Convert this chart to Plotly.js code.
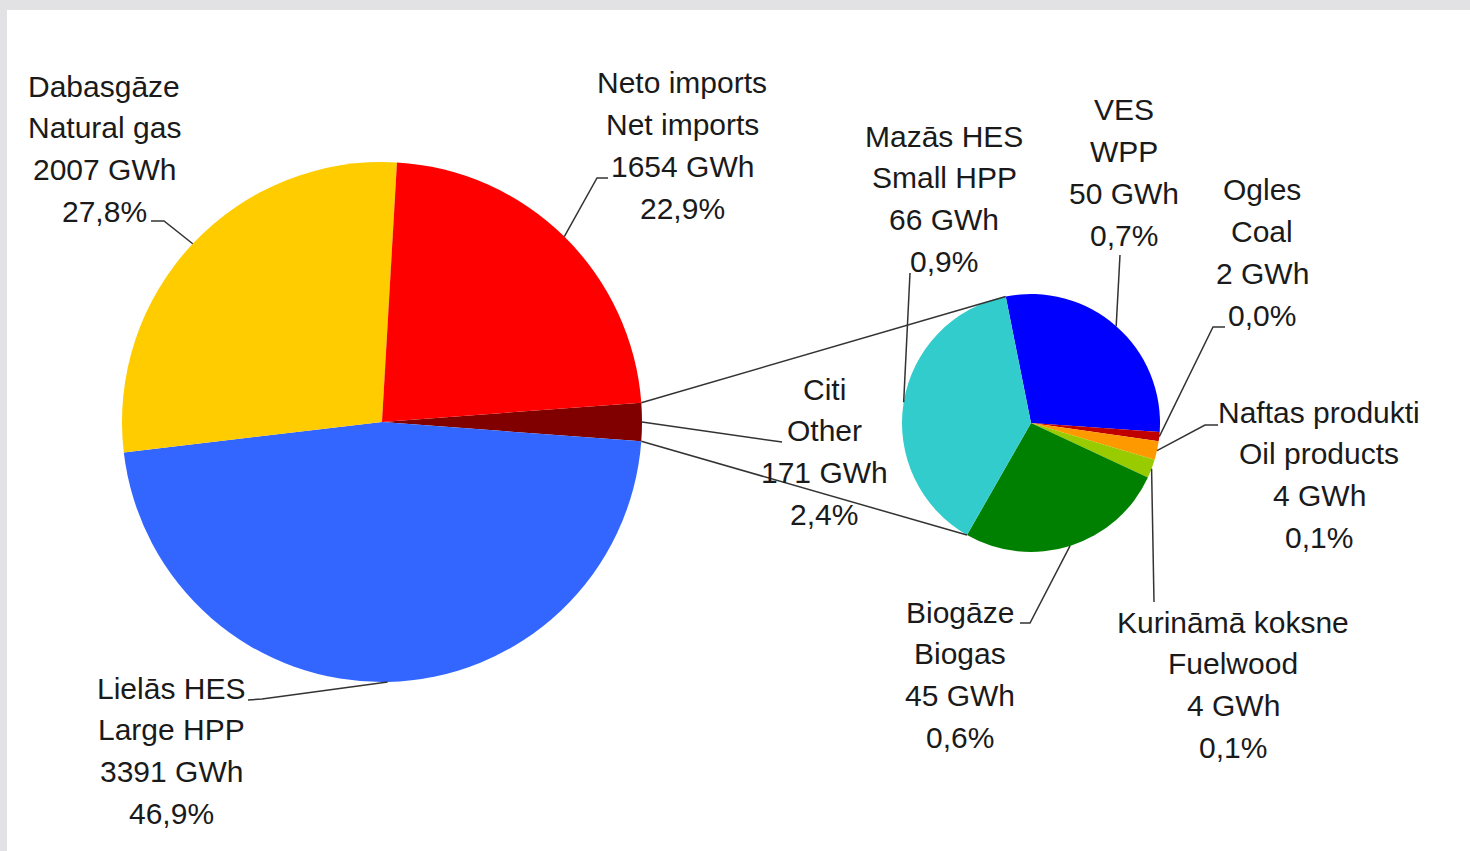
<!DOCTYPE html>
<html>
<head>
<meta charset="utf-8">
<script src="https://cdn.plot.ly/plotly-3.0.1.min.js"></script>
<style>
html, body { margin: 0; padding: 0; background: #e2e2e5; }
#chart { width: 1470px; height: 851px; }
</style>
</head>
<body>
<div id="chart"></div>
<script>
// galvenais aplis
var mainLabels = ['Citi', 'Lielās HES', 'Dabasgāze', 'Neto imports'];
var mainLabelsEn = ['Other', 'Large HPP', 'Natural gas', 'Net imports'];
var mainValues = [171, 3391, 2007, 1654];
var mainColors = ['#800000', '#3366ff', '#ffcc00', '#ff0000'];

// "Citi" sadalijums
var subLabels = ['VES', 'Ogles', 'Naftas produkti', 'Kurināmā koksne', 'Biogāze', 'Mazās HES'];
var subLabelsEn = ['WPP', 'Coal', 'Oil products', 'Fuelwood', 'Biogas', 'Small HPP'];
var subValues = [50, 2, 4, 4, 45, 66];
var subColors = ['#0000ff', '#c00000', '#ff9900', '#99cc00', '#008000', '#33cccc'];

var W = 1470, H = 851;
var FONT = '"Liberation Sans", Arial, sans-serif';
var LINE = 41.7;

// apla novietojums pikseļos
var mainPie = {cx: 382, cy: 422, r: 260};
var subPie = {cx: 1031, cy: 423, r: 129};

var total = mainValues.reduce(function (a, b) { return a + b; }, 0);
mainPie.rot = 90 - mainValues[0] / total * 180;
subPie.rot = -11.3;

// parakstu pirmās rindas centrs
var mainLabelPos = [[824, 389], [171, 688], [104, 86], [682, 83]];
var subLabelPos = [[1124, 110], [1262, 190], [1319, 412], [1233, 622], [960, 612], [944, 136]];
// vadlīniju sākuma punkti (pie teksta)
var mainLeaders = [[[782, 442]], [[248, 700], [262, 699]], [[151, 221], [164, 221]], [[608, 178], [597, 178]]];
var subLeaders = [[[1120, 255]], [[1225, 327], [1213, 327]], [[1218, 425], [1205, 425]], [[1154, 602]], [[1020, 623], [1030, 623]], [[910, 273]]];

function px(x) { return x / W; }
function py(y) { return 1 - y / H; }

// punkts uz apla malas, pulksteņrādītāja virzienā no plkst. 12
function edge(pie, deg) {
    var a = deg * Math.PI / 180;
    return [pie.cx + pie.r * Math.sin(a), pie.cy - pie.r * Math.cos(a)];
}
function sliceAngle(pie, vals, i, frac) {
    var sum = vals.reduce(function (a, b) { return a + b; }, 0);
    var before = 0;
    for (var k = 0; k < i; k++) before += vals[k];
    return pie.rot + (before + frac * vals[i]) / sum * 360;
}
function pct(v) {
    return (v / total * 100).toFixed(1).replace('.', ',') + '%';
}
function domainOf(pie) {
    return {
        x: [px(pie.cx - pie.r), px(pie.cx + pie.r)],
        y: [py(pie.cy + pie.r), py(pie.cy - pie.r)]
    };
}
function path(pts) {
    return pts.map(function (p, i) {
        return (i ? 'L' : 'M') + px(p[0]) + ',' + py(p[1]);
    }).join(' ');
}

var annotations = [];
var shapes = [
    {type: 'rect', xref: 'paper', yref: 'paper', layer: 'below',
     x0: px(7), x1: 1, y0: 0, y1: py(10), fillcolor: '#ffffff', line: {width: 0}}
];

function addLabels(pie, vals, lv, en, pos, leaders) {
    for (var i = 0; i < vals.length; i++) {
        var lines = [lv[i], en[i], vals[i] + ' GWh', pct(vals[i])];
        for (var j = 0; j < lines.length; j++) {
            annotations.push({
                xref: 'paper', yref: 'paper',
                x: px(pos[i][0]), y: py(pos[i][1] + j * LINE),
                text: lines[j], showarrow: false,
                xanchor: 'center', yanchor: 'middle',
                font: {family: FONT, size: 30, color: '#1a1a1a'}
            });
        }
        var pts = leaders[i].concat([edge(pie, sliceAngle(pie, vals, i, 0.5))]);
        shapes.push({type: 'path', xref: 'paper', yref: 'paper', path: path(pts),
                     line: {color: '#333333', width: 1.5}});
    }
}
addLabels(mainPie, mainValues, mainLabels, mainLabelsEn, mainLabelPos, mainLeaders);
addLabels(subPie, subValues, subLabels, subLabelsEn, subLabelPos, subLeaders);

// savienojošās līnijas starp apļiem
var topA = edge(mainPie, sliceAngle(mainPie, mainValues, 0, 0));
var botA = edge(mainPie, sliceAngle(mainPie, mainValues, 0, 1));
var topB = edge(subPie, sliceAngle(subPie, subValues, 0, 0));
var botB = edge(subPie, sliceAngle(subPie, subValues, subValues.length - 1, 0));
shapes.push({type: 'path', xref: 'paper', yref: 'paper', path: path([topA, topB]), line: {color: '#333333', width: 1.5}});
shapes.push({type: 'path', xref: 'paper', yref: 'paper', path: path([botA, botB]), line: {color: '#333333', width: 1.5}});

var data = [{
    type: 'pie', labels: mainLabelsEn, values: mainValues,
    marker: {colors: mainColors, line: {width: 0}},
    sort: false, direction: 'clockwise', rotation: mainPie.rot,
    textinfo: 'none', hoverinfo: 'none', showlegend: false,
    domain: domainOf(mainPie)
}, {
    type: 'pie', labels: subLabelsEn, values: subValues,
    marker: {colors: subColors, line: {width: 0}},
    sort: false, direction: 'clockwise', rotation: subPie.rot,
    textinfo: 'none', hoverinfo: 'none', showlegend: false,
    domain: domainOf(subPie)
}];

var layout = {
    width: W, height: H,
    margin: {l: 0, r: 0, t: 0, b: 0},
    paper_bgcolor: '#e2e2e5',
    showlegend: false,
    annotations: annotations,
    shapes: shapes
};

Plotly.newPlot('chart', data, layout, {displayModeBar: false, staticPlot: true});
</script>
</body>
</html>
